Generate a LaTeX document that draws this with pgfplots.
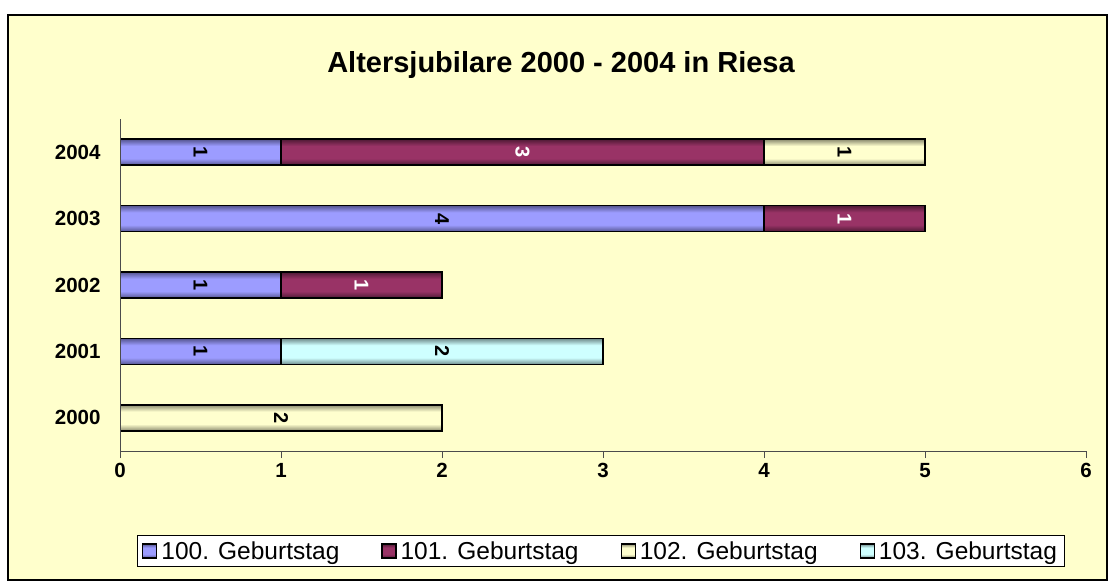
\documentclass[border=0pt]{standalone}
\usepackage{pgfplots}
\pgfplotsset{compat=1.18}
\usepackage{fontspec}
\setmainfont{Liberation Sans}
\definecolor{bg}{HTML}{FFFFCC}
\definecolor{blueC}{HTML}{9C9CFF}
\definecolor{blueE}{HTML}{55558F}
\definecolor{marC}{HTML}{993366}
\definecolor{marE}{HTML}{4F1A35}
\definecolor{creC}{HTML}{FFFFCE}
\definecolor{creE}{HTML}{8A8A6E}
\definecolor{cyaC}{HTML}{CEFFFF}
\definecolor{cyaE}{HTML}{6E8A8A}
\pgfdeclareverticalshading{blueS}{100bp}{color(0bp)=(blueE); color(25bp)=(blueE); color(38bp)=(blueC); color(62bp)=(blueC); color(75bp)=(blueE); color(100bp)=(blueE)}
\pgfdeclareverticalshading{marS}{100bp}{color(0bp)=(marE); color(25bp)=(marE); color(38bp)=(marC); color(62bp)=(marC); color(75bp)=(marE); color(100bp)=(marE)}
\pgfdeclareverticalshading{creS}{100bp}{color(0bp)=(creE); color(25bp)=(creE); color(38bp)=(creC); color(62bp)=(creC); color(75bp)=(creE); color(100bp)=(creE)}
\pgfdeclareverticalshading{cyaS}{100bp}{color(0bp)=(cyaE); color(25bp)=(cyaE); color(38bp)=(cyaC); color(62bp)=(cyaC); color(75bp)=(cyaE); color(100bp)=(cyaE)}
\pgfplotsset{
  base/.style={at={(120pt,136pt)}, anchor=south west,
    scale only axis, width=966pt, height=332pt,
    xmin=0, xmax=6, ymin=-0.5, ymax=4.5},
  cat/.style={base, hide axis, xbar stacked, bar width=26pt},
  s1/.style={draw=black, line width=1.6pt, shade, shading=blueS},
  s2/.style={draw=black, line width=1.6pt, shade, shading=marS},
  s3/.style={draw=black, line width=1.6pt, shade, shading=creS},
  s4/.style={draw=black, line width=1.6pt, shade, shading=cyaS},
}
\begin{document}
\begin{tikzpicture}[x=1pt,y=1pt]
\path[use as bounding box] (0,0) rectangle (1115,587);
\fill[white] (0,0) rectangle (1115,587);
\draw[line width=1.5pt, fill=bg] (8,7) rectangle (1107,572);
\node[font=\bfseries\fontsize{29}{33}\selectfont] at (561,522) {Altersjubilare 2000 - 2004 in Riesa};
% one stacked axis per year, so that every bar is shaded on its own
\begin{axis}[cat]
\addplot[s3] coordinates {(2,0)};
\end{axis}
\begin{axis}[cat]
\addplot[s1] coordinates {(1,1)};
\addplot[s4] coordinates {(2,1)};
\end{axis}
\begin{axis}[cat]
\addplot[s1] coordinates {(1,2)};
\addplot[s2] coordinates {(1,2)};
\end{axis}
\begin{axis}[cat]
\addplot[s1] coordinates {(4,3)};
\addplot[s2] coordinates {(1,3)};
\end{axis}
\begin{axis}[cat]
\addplot[s1] coordinates {(1,4)};
\addplot[s2] coordinates {(3,4)};
\addplot[s3] coordinates {(1,4)};
\end{axis}
\begin{axis}[base,
  xtick={0,...,6}, ytick={0,...,4},
  yticklabels={2000,2001,2002,2003,2004},
  axis x line*=bottom, axis y line*=left,
  axis line style={-, draw=black!70, line width=0.9pt},
  ytick style={draw=none},
  xtick style={draw=black!70, line width=0.9pt},
  tick align=outside, major tick length=7pt,
  /pgf/number format/assume math mode=true,
  ticklabel style={font=\bfseries\fontsize{20.5}{24}\selectfont},
  yticklabel style={xshift=-9pt},
  xticklabel style={yshift=-2pt},
  legend columns=4,
  legend style={at={(0.4975,-0.301)}, anchor=center, draw=black, fill=white, line width=0.8pt,
    font=\fontsize{24.5}{27}\selectfont, inner xsep=5pt, inner ysep=4pt,
    /tikz/every even column/.append style={column sep=40pt},
    /tikz/every odd column/.append style={column sep=2pt}},
  legend image code/.code={\draw[#1, line width=1.2pt] (0pt,-7pt) rectangle (14pt,7pt);},
  nodes near coords, point meta=explicit symbolic,
  every node near coord/.append style={anchor=center, rotate=-90, inner sep=0pt,
    font=\bfseries\fontsize{20}{22}\selectfont},
]
\addlegendimage{s1}
\addlegendentry{100. Geburtstag}
\addlegendimage{s2}
\addlegendentry{101. Geburtstag}
\addlegendimage{s3}
\addlegendentry{102. Geburtstag}
\addlegendimage{s4}
\addlegendentry{103. Geburtstag}
% value labels, centred in their segments
\addplot[draw=none, mark=none, nodes near coords style={text=black}, forget plot]
  coordinates {(0.5,4) [1] (4.5,4) [1] (2,3) [4] (0.5,2) [1] (0.5,1) [1] (2,1) [2] (1,0) [2]};
\addplot[draw=none, mark=none, nodes near coords style={text=white}, forget plot]
  coordinates {(2.5,4) [3] (4.5,3) [1] (1.5,2) [1]};
\end{axis}
\end{tikzpicture}
\end{document}
